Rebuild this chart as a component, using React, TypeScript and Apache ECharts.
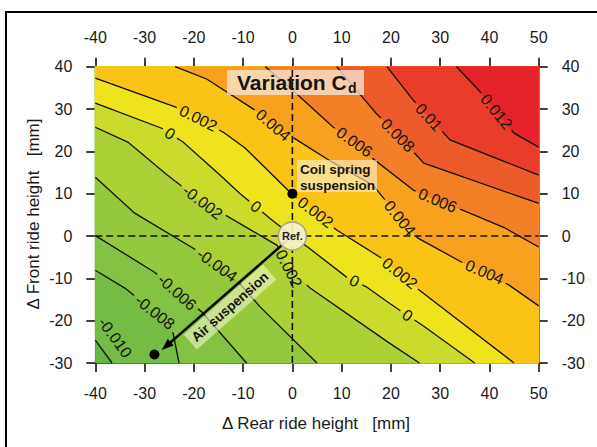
import React, { useEffect, useRef } from 'react';
import * as echarts from 'echarts';

const X_MIN = -40, X_MAX = 50, Y_MIN = -30, Y_MAX = 40;
const FONT = "'Liberation Sans', Arial, sans-serif";

// contour levels of the Cd variation and the colour of each band (lowest band first)
const levels = [-0.010, -0.008, -0.006, -0.004, -0.002, 0, 0.002, 0.004, 0.006, 0.008, 0.010, 0.012];
const bandColors = ['#66b745', '#74bc44', '#83c242', '#94c83d', '#abd137', '#cbdb2c', '#efe31d', '#f9c415', '#f7a11e', '#f37f26', '#ee5b2b', '#e93c2a', '#e5232a'];

// contour lines: [rear ride height, front ride height]
const cM010 = [[-40, -24.6], [-36.6, -30]];
const cM008 = [[-40, -8.1], [-34, -12.3], [-27.9, -18], [-24.2, -23], [-23, -30]];
const cM006 = [[-40, 0.1], [-27.9, -8.6], [-23.4, -13.3], [-18.3, -18], [-9.3, -30]];
const cM004 = [[-40, 13.9], [-32, 5.4], [-19.7, -3.2], [-15.3, -6.9], [-11.3, -10.4], [-6.5, -16.8], [5, -30]];
const cM002 = [[-40, 25.7], [-33.4, 22.2], [-25.4, 14.4], [-18.2, 8], [-13.7, 5], [-3.1, -2.2], [-0.7, -7.7], [3.6, -12.3], [19.7, -25.3], [25.8, -30]];
const c000 = [[-40, 31.4], [-26.4, 25.4], [-22.2, 22.2], [-14.7, 14.4], [-10.6, 10], [-4.6, 4.2], [0, 0], [3.1, -2.6], [11, -9.7], [15, -12], [19.7, -15.9], [26.9, -21.5], [37, -30]];
const cP002 = [[-40, 37.3], [-23.8, 30.5], [-19.1, 27.8], [-14, 24.5], [-9.6, 20.8], [0, 9.8], [4.7, 5.6], [9, 1.4], [17.8, -5], [21.8, -8.8], [25.8, -12.8], [45, -30]];
const cP004 = [[-23.8, 40], [-17.4, 37.1], [-7, 29.3], [-3.9, 26.2], [0.5, 23], [8, 17.5], [16.4, 12], [21.8, 4.2], [25.5, -0.5], [34.4, -6.2], [39, -8.5], [44, -11.6], [50, -16.5]];
const cP006 = [[-5.5, 40], [0, 34.5], [8.2, 25.8], [12.6, 22.2], [16, 18.6], [24.6, 10.8], [29.5, 8.4], [34.8, 6], [43, 2], [50, -2.6]];
const cP008 = [[9, 40], [12.6, 35], [17, 29], [21.4, 23.8], [26.7, 17.2], [50, 7.7]];
const cP010 = [[19.2, 40], [24.6, 32], [27.7, 28.1], [32, 22.7], [50, 14.4]];
const cP012 = [[33.3, 40], [37.8, 34.5], [41.4, 29.4], [45, 24.3], [50, 21]];
const contours = [cM010, cM008, cM006, cM004, cM002, c000, cP002, cP004, cP006, cP008, cP010, cP012];

// contour labels as printed: [level, rear, front, text]
const contourLabels: [number, number, number, string][] = [
  [0.012, 41.4, 29.4, '0.012'],
  [0.010, 27.7, 28.1, '0.01'],
  [0.008, 21.4, 23.8, '0.008'],
  [0.006, 12.6, 22.2, '0.006'],
  [0.006, 29.5, 8.4, '0.006'],
  [0.004, -3.9, 26.2, '0.004'],
  [0.004, 21.8, 4.2, '0.004'],
  [0.004, 39, -8.5, '0.004'],
  [0.002, -19.1, 27.8, '0.002'],
  [0.002, 4.7, 5.6, '0.002'],
  [0.002, 21.8, -8.8, '0.002'],
  [0, -25.2, 23.6, '0'],
  [0, -7.5, 6.8, '0'],
  [0, 12.5, -10.9, '0'],
  [0, 23.5, -18.5, '0'],
  [-0.002, -18.2, 8, '-0.002'],
  [-0.002, -0.7, -7.7, '0.002'],
  [-0.004, -15.3, -6.9, '-0.004'],
  [-0.006, -23.4, -13.3, '-0.006'],
  [-0.008, -27.9, -18, '-0.008'],
  [-0.010, -36, -24, '-0.010'],
];

// marked operating points
const refPoint = [[0, 0]];
const suspensionPoints = [[0, 10], [-28, -28]];
const airArrow = [[0, 0], [-25.6, -26]];

const LABEL_SIZE = 16;

function textWidth(t: string, size: number) {
  let w = 0;
  for (const ch of t) w += ch === '.' ? 0.278 : ch === '-' ? 0.333 : 0.556;
  return w * size;
}

function perim(p: number[]) {
  const eps = 1e-6;
  const [x, y] = p;
  if (Math.abs(y - Y_MAX) < eps) return (x - X_MIN) / (X_MAX - X_MIN);
  if (Math.abs(x - X_MAX) < eps) return 1 + (Y_MAX - y) / (Y_MAX - Y_MIN);
  if (Math.abs(y - Y_MIN) < eps) return 2 + (X_MAX - x) / (X_MAX - X_MIN);
  return 3 + (y - Y_MIN) / (Y_MAX - Y_MIN);
}

const cornerList: [number, number[]][] = [[0, [X_MIN, Y_MAX]], [1, [X_MAX, Y_MAX]], [2, [X_MAX, Y_MIN]]];

function renderBand(params: any, api: any) {
  const i = params.dataIndex;
  let pts: number[][];
  if (i === 0) {
    pts = [[X_MIN, Y_MAX], [X_MAX, Y_MAX], [X_MAX, Y_MIN], [X_MIN, Y_MIN]];
  } else {
    const line = contours[i - 1];
    let pS = perim(line[0]);
    const pE = perim(line[line.length - 1]);
    if (pS >= 3) pS -= 4;
    const extra = cornerList.filter((c) => c[0] > pS && c[0] < pE).sort((a, b) => b[0] - a[0]).map((c) => c[1]);
    pts = [...line, ...extra];
  }
  return {
    type: 'polygon',
    shape: { points: pts.map((p) => api.coord(p)) },
    style: { fill: bandColors[i], stroke: bandColors[i], lineWidth: 0.6 },
  };
}

function renderContour(params: any, api: any) {
  const k = params.dataIndex;
  const pts: number[][] = contours[k].map((p) => api.coord(p));
  const cum = [0];
  for (let i = 1; i < pts.length; i++) cum.push(cum[i - 1] + Math.hypot(pts[i][0] - pts[i - 1][0], pts[i][1] - pts[i - 1][1]));
  const L = cum[cum.length - 1];
  const pointAt = (s: number) => {
    for (let i = 0; i < pts.length - 1; i++) {
      if (s <= cum[i + 1]) {
        const t = (s - cum[i]) / (cum[i + 1] - cum[i] || 1);
        return [pts[i][0] + t * (pts[i + 1][0] - pts[i][0]), pts[i][1] + t * (pts[i + 1][1] - pts[i][1])];
      }
    }
    return pts[pts.length - 1];
  };
  const gaps: number[][] = [];
  const texts: any[] = [];
  contourLabels.filter((l) => Math.abs(l[0] - levels[k]) < 1e-9).forEach((l) => {
    const q = api.coord([l[1], l[2]]);
    let best = { d: Infinity, s: 0, ang: 0, px: 0, py: 0 };
    for (let i = 0; i < pts.length - 1; i++) {
      const a = pts[i], b = pts[i + 1];
      const dx = b[0] - a[0], dy = b[1] - a[1];
      const len2 = dx * dx + dy * dy;
      let t = ((q[0] - a[0]) * dx + (q[1] - a[1]) * dy) / len2;
      t = Math.max(0, Math.min(1, t));
      const px = a[0] + t * dx, py = a[1] + t * dy;
      const d = Math.hypot(q[0] - px, q[1] - py);
      if (d < best.d) best = { d, s: cum[i] + t * Math.sqrt(len2), ang: Math.atan2(dy, dx), px, py };
    }
    let ang = best.ang;
    if (ang > Math.PI / 2) ang -= Math.PI;
    if (ang < -Math.PI / 2) ang += Math.PI;
    const w = textWidth(l[3], LABEL_SIZE);
    const onLine = best.d < 8;
    if (onLine) gaps.push([best.s - w / 2 - 4, best.s + w / 2 + 4]);
    texts.push({
      type: 'text',
      x: onLine ? best.px : q[0],
      y: onLine ? best.py : q[1],
      rotation: -ang,
      style: { text: l[3], x: 0, y: 0, fill: '#151515', fontSize: LABEL_SIZE, fontFamily: FONT, align: 'center', verticalAlign: 'middle' },
    });
  });
  gaps.sort((a, b) => a[0] - b[0]);
  const keeps: number[][] = [];
  let cur = 0;
  for (const [a, b] of gaps) {
    if (a > cur) keeps.push([cur, Math.min(a, L)]);
    cur = Math.max(cur, b);
  }
  if (cur < L) keeps.push([cur, L]);
  const lines = keeps.map(([a, b]) => {
    const out = [pointAt(a)];
    for (let i = 0; i < pts.length; i++) if (cum[i] > a && cum[i] < b) out.push(pts[i]);
    out.push(pointAt(b));
    return { type: 'polyline', shape: { points: out }, style: { stroke: '#111', lineWidth: 1.3, fill: null } };
  });
  return { type: 'group', children: [...lines, ...texts] };
}

function axisX(position: string, margin: number) {
  return {
    type: 'value', min: X_MIN, max: X_MAX, interval: 10, position,
    axisLine: { show: true, onZero: false, lineStyle: { color: '#000', width: 1.5 } },
    axisTick: { show: true, length: 9, lineStyle: { color: '#000', width: 1.5 } },
    axisLabel: { margin, fontSize: 16, color: '#1a1a1a', fontFamily: FONT },
    splitLine: { show: false },
  };
}
function axisY(position: string, margin: number) {
  return {
    type: 'value', min: Y_MIN, max: Y_MAX, interval: 10, position,
    axisLine: { show: true, onZero: false, lineStyle: { color: '#000', width: 1.5 } },
    axisTick: { show: true, length: 9, lineStyle: { color: '#000', width: 1.5 } },
    axisLabel: { margin, fontSize: 16, color: '#1a1a1a', fontFamily: FONT },
    splitLine: { show: false },
  };
}

export default function App() {
  const ref = useRef<HTMLDivElement>(null);
  useEffect(() => {
    if (!ref.current) return;
    const chart = echarts.init(ref.current, null, { renderer: 'svg' });
    const airAngle = 0.722;
    const option: any = {
      animation: false,
      grid: { left: 95.3, top: 66.7, width: 443.4, height: 296.3, show: false },
      xAxis: [axisX('bottom', 22), axisX('top', 21)],
      yAxis: [axisY('left', 23), axisY('right', 23)],
      series: [
        {
          type: 'custom', coordinateSystem: 'cartesian2d', z: 1, silent: true,
          data: bandColors.map((_, i) => [X_MIN, Y_MIN, i]), encode: { x: 0, y: 1 },
          renderItem: renderBand,
        },
        {
          type: 'custom', coordinateSystem: 'cartesian2d', z: 2, silent: true,
          data: contours.map((_, i) => [X_MIN, Y_MIN, i]), encode: { x: 0, y: 1 },
          renderItem: renderContour,
        },
        {
          type: 'line', z: 10, silent: true, symbol: 'none',
          data: [[0, Y_MIN], [0, Y_MAX]],
          lineStyle: { color: '#111', width: 1.6, type: [7, 4] },
        },
        {
          type: 'line', z: 10, silent: true, symbol: 'none',
          data: [[X_MIN, 0], [X_MAX, 0]],
          lineStyle: { color: '#111', width: 1.6, type: [7, 4] },
        },
        {
          type: 'line', z: 11, silent: true, data: [],
          markLine: {
            silent: true, symbol: ['none', 'triangle'], symbolSize: [9, 12],
            lineStyle: { color: '#000', width: 2.5, type: 'solid' },
            label: { show: false },
            data: [[{ coord: airArrow[0] }, { coord: airArrow[1] }]],
          },
        },
        {
          type: 'scatter', z: 12, silent: true, symbolSize: 10,
          data: suspensionPoints, itemStyle: { color: '#000', opacity: 1 },
        },
        {
          type: 'scatter', z: 15, silent: true, symbolSize: 28,
          data: refPoint,
          itemStyle: { color: 'rgba(246,242,204,0.92)', borderColor: '#a7a58e', borderWidth: 1.5, opacity: 1 },
          label: { show: true, position: 'inside', formatter: 'Ref.', fontSize: 11, fontWeight: 'bold', color: '#222', fontFamily: FONT },
        },
      ],
      graphic: [
        { type: 'rect', z: 30, silent: true, shape: { x: 6, y: 12, width: 640, height: 480 }, style: { fill: 'none', stroke: '#000', lineWidth: 2 } },
        { type: 'rect', z: 8, silent: true, shape: { x: 227, y: 70, width: 137, height: 25 }, style: { fill: 'rgba(248,232,220,0.75)' } },
        { type: 'text', z: 20, silent: true, x: 237, y: 82, style: { text: 'Variation C', fontSize: 21, fontWeight: 'bold', fontFamily: FONT, fill: '#151515', align: 'left', verticalAlign: 'middle' } },
        { type: 'text', z: 20, silent: true, x: 348, y: 88, style: { text: 'd', fontSize: 14, fontWeight: 'bold', fontFamily: FONT, fill: '#151515', align: 'left', verticalAlign: 'middle' } },
        { type: 'rect', z: 8, silent: true, shape: { x: 297, y: 160, width: 80, height: 32 }, style: { fill: 'rgba(252,240,215,0.6)' } },
        { type: 'text', z: 20, silent: true, x: 300, y: 169, style: { text: 'Coil spring', fontSize: 13.5, fontWeight: 'bold', fontFamily: FONT, fill: '#151515', align: 'left', verticalAlign: 'middle' } },
        { type: 'text', z: 20, silent: true, x: 300, y: 185, style: { text: 'suspension', fontSize: 13.5, fontWeight: 'bold', fontFamily: FONT, fill: '#151515', align: 'left', verticalAlign: 'middle' } },
        {
          type: 'group', z: 20, x: 230, y: 307, rotation: airAngle, silent: true,
          children: [
            { type: 'rect', z: 8, shape: { x: -53, y: -10, width: 106, height: 20 }, style: { fill: 'rgba(240,245,205,0.6)' } },
            { type: 'text', z: 20, x: 0, y: 0, style: { text: 'Air suspension', fontSize: 13.5, fontWeight: 'bold', fontFamily: FONT, fill: '#151515', align: 'center', verticalAlign: 'middle' } },
          ],
        },
        { type: 'text', z: 20, silent: true, x: 316, y: 423, style: { text: '\u0394 Rear ride height\u00a0\u00a0\u00a0[mm]', fontSize: 17, fontFamily: FONT, fill: '#1a1a1a', align: 'center', verticalAlign: 'middle' } },
        { type: 'text', z: 20, silent: true, x: 33, y: 214, rotation: Math.PI / 2, style: { text: '\u0394 Front ride height\u00a0\u00a0\u00a0[mm]', fontSize: 17, fontFamily: FONT, fill: '#1a1a1a', align: 'center', verticalAlign: 'middle' } },
      ],
    };
    chart.setOption(option);
    return () => chart.dispose();
  }, []);
  return <div ref={ref} style={{ position: 'absolute', left: 0, top: 0, width: 597, height: 447, background: '#fff' }} />;
}
